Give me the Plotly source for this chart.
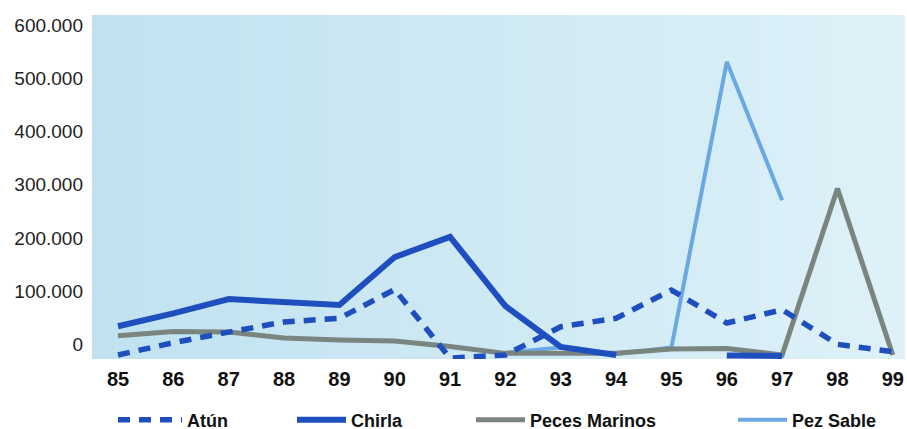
import base64, struct, zlib
import plotly.graph_objects as go

# ---------------- data ----------------
years = [85, 86, 87, 88, 89, 90, 91, 92, 93, 94, 95, 96, 97, 98, 99]
year_labels = ["85", "86", "87", "88", "89", "90", "91", "92", "93", "94", "95", "96", "97", "98", "99"]

atun = [-20000, 3000, 23000, 42000, 49000, 103000, -26000, -20000, 33000, 49000, 102000, 40000, 65000, 0, -14000]
chirla = [34000, 58000, 85000, 80000, 74000, 164000, 202000, 72000, -5000, -20000, None, -21000, -22000, None, None]
peces_marinos = [16000, 24000, 23000, 12000, 8000, 6000, -4000, -17000, -17000, -17000, -9000, -8000, -20000, 293000, -20000]
pez_sable = [None, None, None, None, None, None, None, -16000, -6000, -18000, -6000, 531000, 271000, None, None]

y_ticks = [0, 100000, 200000, 300000, 400000, 500000, 600000]

# ---------------- background gradient image ----------------
def gradient_png(c1, c2, w=128):
    row = b"\x00"
    for i in range(w):
        t = i / (w - 1)
        row += bytes(int(round(c1[k] + (c2[k] - c1[k]) * t)) for k in range(3))
    def chunk(tag, data):
        c = struct.pack(">I", len(data)) + tag + data
        return c + struct.pack(">I", zlib.crc32(tag + data) & 0xffffffff)
    png = b"\x89PNG\r\n\x1a\n"
    png += chunk(b"IHDR", struct.pack(">IIBBBBB", w, 1, 8, 2, 0, 0, 0))
    png += chunk(b"IDAT", zlib.compress(row))
    png += chunk(b"IEND", b"")
    return "data:image/png;base64," + base64.b64encode(png).decode()

bg = gradient_png((192, 226, 240), (222, 241, 248))

dark_blue = "#1f4fbf"
gray = "#7a8580"
light_blue = "#6aa8e2"
font_family = "Liberation Sans, Arial, sans-serif"

fig = go.Figure()
fig.add_trace(go.Scatter(x=years, y=pez_sable, name="Pez Sable", mode="lines",
                         line=dict(color=light_blue, width=4), legend="legend4"))
fig.add_trace(go.Scatter(x=years, y=peces_marinos, name="Peces Marinos", mode="lines",
                         line=dict(color=gray, width=5), legend="legend3"))
fig.add_trace(go.Scatter(x=years, y=chirla, name="Chirla", mode="lines",
                         line=dict(color=dark_blue, width=6), legend="legend2"))
fig.add_trace(go.Scatter(x=years, y=atun, name="Atún", mode="lines",
                         line=dict(color=dark_blue, width=5.5, dash="12px,9px"), legend="legend"))

fig_w, fig_h = 907, 429
plot_l, plot_w, plot_t, plot_b = 92, 813, 15, 359
plot_h = plot_b - plot_t

def lx(px):
    return (px - plot_l) / plot_w

leg_common = dict(orientation="h", yanchor="middle", xanchor="left", y=(plot_b - 420) / plot_h,
                  bgcolor="rgba(0,0,0,0)", entrywidthmode="pixels",
                  font=dict(family=font_family, size=18, color="#111111", weight="bold"))

fig.update_layout(
    width=fig_w, height=fig_h,
    margin=dict(l=plot_l, r=fig_w - plot_l - plot_w, t=plot_t, b=fig_h - plot_b, autoexpand=False),
    paper_bgcolor="white",
    plot_bgcolor="rgba(0,0,0,0)",
    separators=",.",
    showlegend=True,
    legend=dict(leg_common, x=lx(113), itemwidth=64, entrywidth=140),
    legend2=dict(leg_common, x=lx(292), itemwidth=49, entrywidth=140),
    legend3=dict(leg_common, x=lx(471), itemwidth=49, entrywidth=225),
    legend4=dict(leg_common, x=lx(733), itemwidth=49, entrywidth=165),
    images=[dict(source=bg, xref="paper", yref="paper", x=0, y=1, sizex=1, sizey=1,
                 sizing="stretch", layer="below", xanchor="left", yanchor="top")],
    xaxis=dict(range=[84.53, 99.22], tickvals=years, ticktext=year_labels, showgrid=False,
               zeroline=False, showline=False, ticks="", automargin=False, ticklabelstandoff=6,
               tickfont=dict(family=font_family, size=20, color="#111111", weight="bold")),
    yaxis=dict(range=[-27600, 619000], tickvals=y_ticks, tickformat=",d", showgrid=False,
               zeroline=False, showline=False, ticks="", ticklabelstandoff=8, automargin=False,
               tickfont=dict(family=font_family, size=19, color="#222222")),
)

fig.write_html("out.html", config={"displayModeBar": False},
               post_script="document.body.style.margin='0';document.body.style.overflow='hidden';")
